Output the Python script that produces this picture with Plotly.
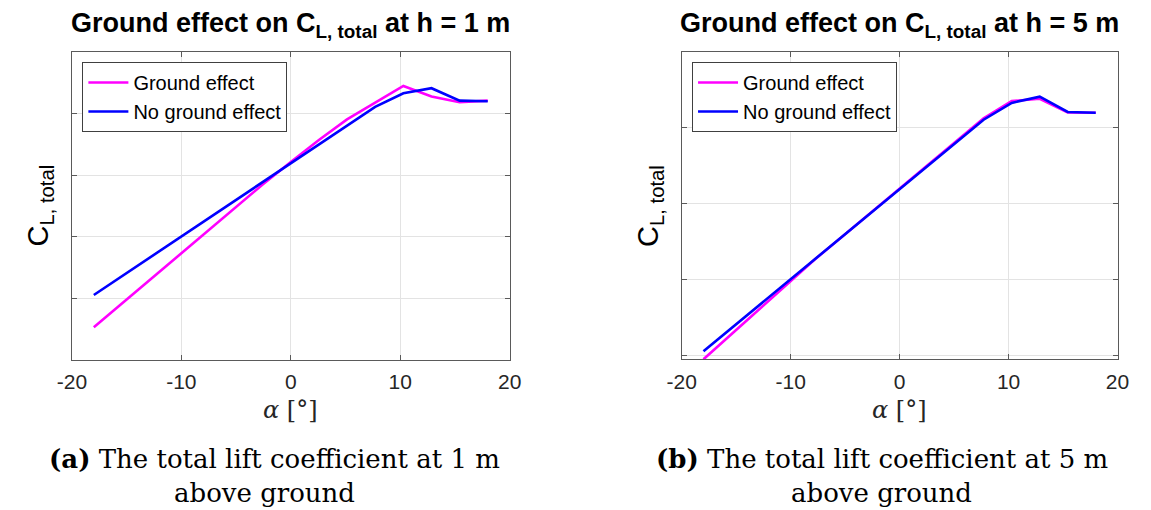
import plotly.graph_objects as go
from plotly.subplots import make_subplots

# Angle of attack [deg]
alpha = [-18, -15.43, -12.86, -10.29, -7.71, -5.14, -2.57, 0,
         2.57, 5.14, 7.71, 10.29, 12.86, 15.43, 18]

# Total lift coefficient
cl_ge_1m = [-0.735, -0.542, -0.348, -0.152, 0.040, 0.231, 0.423, 0.606,
            0.784, 0.951, 1.088, 1.222, 1.137, 1.090, 1.103]
cl_ge_5m = [-0.526, -0.362, -0.197, -0.032, 0.136, 0.290, 0.445, 0.600,
            0.754, 0.905, 1.062, 1.175, 1.190, 1.100, 1.098]
cl_no_ge = [-0.473, -0.321, -0.169, -0.017, 0.135, 0.288, 0.440, 0.594,
            0.744, 0.894, 1.052, 1.163, 1.204, 1.103, 1.098]

x_ticks = [-20, -10, 0, 10, 20]
x_tick_text = ["-20", "-10", "0", "10", "20"]
y_ticks = [-1.0, -0.5, 0.0, 0.5, 1.0, 1.5]
heights = ["1", "5"]
panel_tags = ["(a)", "(b)"]

W, H = 1151, 510
SANS = "Liberation Sans, Arial, sans-serif"
SERIF = "DejaVu Serif, serif"
AXIS_COL = "#5a5a5a"
GRID_COL = "#e3e3e3"
MAGENTA = "#ff00ff"
BLUE = "#0000ff"

# axes boxes in pixels (left, right, top, bottom)
boxes = [(58.3, 506.5, 51.7, 360.0), (682.7, 1129.0, 51.7, 359.3)]
y_ranges = [[-1.0, 1.5], [min(cl_ge_5m), 1.5]]


def px(v):
    return v / W


def py(v):
    return 1 - v / H


fig = make_subplots(rows=1, cols=2)

series = [cl_ge_1m, cl_ge_5m]
for i in range(2):
    leg = "legend" if i == 0 else "legend2"
    fig.add_trace(go.Scatter(x=alpha, y=series[i], mode="lines", name="Ground effect",
                             line=dict(color=MAGENTA, width=2.6), legend=leg),
                  row=1, col=i + 1)
    fig.add_trace(go.Scatter(x=alpha, y=cl_no_ge, mode="lines", name="No ground effect",
                             line=dict(color=BLUE, width=2.6), legend=leg),
                  row=1, col=i + 1)

annotations = []
for i in range(2):
    l, r, t, b = boxes[i]
    xa = "xaxis" if i == 0 else "xaxis2"
    ya = "yaxis" if i == 0 else "yaxis2"
    common = dict(showline=True, linecolor=AXIS_COL, linewidth=1, mirror="ticks",
                  ticks="inside", ticklen=5, tickcolor=AXIS_COL, tickwidth=1,
                  showgrid=True, gridcolor=GRID_COL, gridwidth=1, zeroline=False)
    fig.update_layout({
        xa: dict(domain=[px(l), px(r)], range=[-20, 20], tickvals=x_ticks,
                 ticktext=x_tick_text, ticklabelstandoff=3,
                 tickfont=dict(family=SANS, size=21, color="#262626"), **common),
        ya: dict(domain=[py(b), py(t)], range=y_ranges[i], tickvals=y_ticks,
                 showticklabels=False, **common),
    })
    cx = (l + r) / 2
    # panel title
    annotations.append(dict(
        text="<b>Ground effect on C<sub>L, total</sub> at h = %s m</b>" % heights[i],
        x=px(cx), y=py(6), xref="paper", yref="paper", xanchor="center", yanchor="top",
        showarrow=False, font=dict(family=SANS, size=27, color="black")))
    # y-axis label
    annotations.append(dict(
        text="C<sub>L, total</sub>", textangle=-90,
        x=px(l - 33), y=py((t + b) / 2), xref="paper", yref="paper",
        xanchor="center", yanchor="middle", showarrow=False,
        font=dict(family=SANS, size=29, color="black")))
    # x-axis label
    annotations.append(dict(
        text="<i>α</i> [°]", x=px(cx), y=py(410), xref="paper", yref="paper",
        xanchor="center", yanchor="middle", showarrow=False,
        font=dict(family=SERIF, size=24, color="#262626")))

# sub-captions below each panel
cap_centres = [(266, 255), (888, 887)]
for i in range(2):
    c1, c2 = cap_centres[i]
    annotations.append(dict(
        text="<b>%s</b> The total lift coefficient at %s m" % (panel_tags[i], heights[i]),
        x=px(c1), y=py(459), xref="paper", yref="paper", xanchor="center", yanchor="middle",
        showarrow=False, font=dict(family=SERIF, size=26, color="black")))
    annotations.append(dict(
        text="above ground", x=px(c2), y=py(493), xref="paper", yref="paper",
        xanchor="center", yanchor="middle", showarrow=False,
        font=dict(family=SERIF, size=26, color="black")))

legend_style = dict(xanchor="left", yanchor="top", bgcolor="white",
                    bordercolor="#404040", borderwidth=1,
                    font=dict(family=SANS, size=20, color="black"),
                    itemwidth=40, tracegroupgap=0)

fig.update_layout(
    width=W, height=H,
    margin=dict(l=0, r=0, t=0, b=0),
    paper_bgcolor="white", plot_bgcolor="white",
    annotations=annotations,
    legend=dict(x=px(69), y=py(62), **legend_style),
    legend2=dict(x=px(693.3), y=py(62), **legend_style),
)

fig.write_html("out.html")
